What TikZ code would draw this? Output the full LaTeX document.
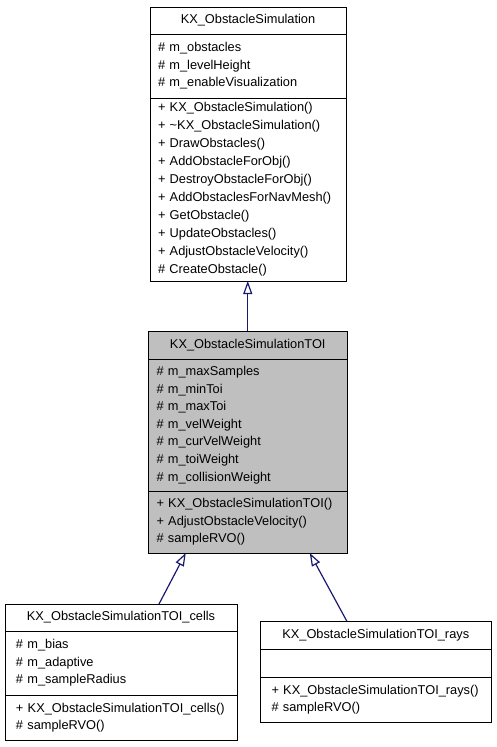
\documentclass[tikz,border=0pt]{standalone}
\usepackage{fontspec}
\setmainfont{Liberation Sans}
\usetikzlibrary{arrows.meta}
\definecolor{edgeblue}{HTML}{191970}
\definecolor{classgray}{HTML}{BFBFBF}
\begin{document}
\begin{tikzpicture}[x=1pt,y=-1pt,
  box/.style={draw=black, line width=1pt, outer sep=0pt, inner ysep=0pt, anchor=north west, font=\fontsize{12.8}{17.6}\selectfont},
  title/.style={box, align=center},
  list/.style={box, align=left},
  inherit/.style={draw=edgeblue, line width=1.2pt, -{Triangle[open, length=13pt, width=9pt]}}]

\useasboundingbox (0,0) rectangle (496,747);


\node[title, minimum width=196, minimum height=27] (simT) at (150,7) {KX\_ObstacleSimulation};
\node[list, text width=180, inner xsep=8, minimum height=64] (simA) at (150,34)
  {\# m\_obstacles\\\# m\_levelHeight\\\# m\_enableVisualization};
\node[list, text width=180, inner xsep=8, minimum height=183, font=\fontsize{12.8}{18}\selectfont] (simM) at (150,98)
  {+ KX\_ObstacleSimulation()\\+ \textasciitilde KX\_ObstacleSimulation()\\+ DrawObstacles()\\+ AddObstacleForObj()\\+ DestroyObstacleForObj()\\+ AddObstaclesForNavMesh()\\+ GetObstacle()\\+ UpdateObstacles()\\+ AdjustObstacleVelocity()\\\# CreateObstacle()};


\node[title, fill=classgray, minimum width=198.5, minimum height=28] (toiT) at (148.5,331) {KX\_ObstacleSimulationTOI};
\node[list, fill=classgray, text width=182.5, inner xsep=8, minimum height=132] (toiA) at (148.5,359)
  {\# m\_maxSamples\\\# m\_minToi\\\# m\_maxToi\\\# m\_velWeight\\\# m\_curVelWeight\\\# m\_toiWeight\\\# m\_collisionWeight};
\node[list, fill=classgray, text width=182.5, inner xsep=8, minimum height=62] (toiM) at (148.5,491)
  {+ KX\_ObstacleSimulationTOI()\\+ AdjustObstacleVelocity()\\\# sampleRVO()};


\node[title, minimum width=232, minimum height=27] (cellsT) at (5,604) {KX\_ObstacleSimulationTOI\_cells};
\node[list, text width=210, inner xsep=11, minimum height=64] (cellsA) at (5,631)
  {\# m\_bias\\\# m\_adaptive\\\# m\_sampleRadius};
\node[list, text width=210, inner xsep=11, minimum height=45] (cellsM) at (5,695)
  {+ KX\_ObstacleSimulationTOI\_cells()\\\# sampleRVO()};


\node[title, minimum width=230.5, minimum height=28] (raysT) at (260.5,621) {KX\_ObstacleSimulationTOI\_rays};
\node[list, text width=208.5, inner xsep=11, minimum height=28] (raysA) at (260.5,649) {};
\node[list, text width=208.5, inner xsep=11, minimum height=45] (raysM) at (260.5,677)
  {+ KX\_ObstacleSimulationTOI\_rays()\\\# sampleRVO()};


\draw[inherit] (toiT.north) -- (toiT.north |- simM.south);
\draw[inherit] ([xshift=38]cellsT.north) -- ([xshift=-62]toiM.south);
\draw[inherit] ([xshift=-29]raysT.north) -- ([xshift=62]toiM.south);

\end{tikzpicture}
\end{document}
